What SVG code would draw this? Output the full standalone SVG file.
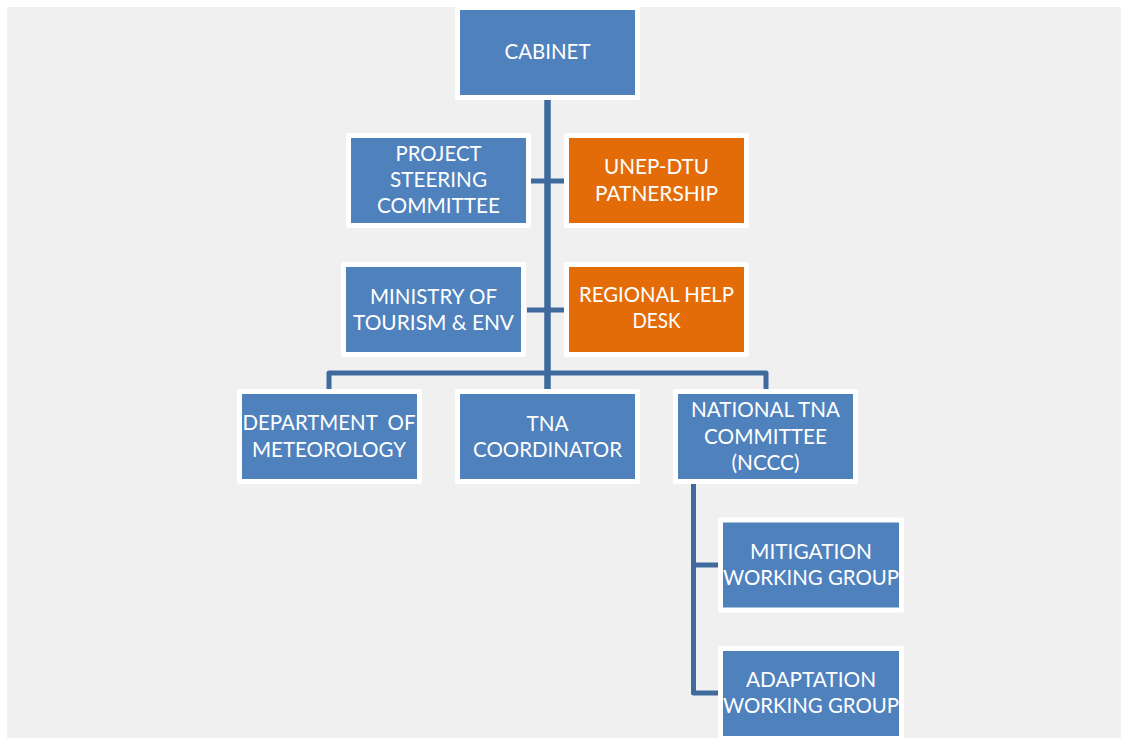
<svg xmlns="http://www.w3.org/2000/svg" width="1121" height="738" viewBox="0 0 1121 738">
  <style>
    .box{stroke:#ffffff;stroke-width:5;stroke-linejoin:round}
    .blue{fill:#4f81bd}
    .orange{fill:#e36c09}
    .lbl{font-family:Lato,"Liberation Sans",sans-serif;font-size:21.5px;fill:#ffffff;text-anchor:middle}
    .conn{fill:none;stroke:#3e6a9e;stroke-width:5;stroke-linejoin:round;stroke-linecap:butt}
  </style>
  <rect x="0" y="0" width="1121" height="738" fill="#ffffff"/>
  <rect x="7" y="7" width="1114" height="731" fill="#f0f0f0"/>

  <g id="connectors">
    <path class="conn" d="M547.5 99 V389" style="stroke-width:6.5"/>
    <path class="conn" d="M531 181 H564"/>
    <path class="conn" d="M527 310 H564"/>
    <path class="conn" d="M329 389 V373 H766 V389"/>
    <path class="conn" d="M693.5 484 V693 H719"/>
    <path class="conn" d="M693.5 565 H719"/>
  </g>

  <g id="cabinet">
    <rect class="box blue" x="457.5" y="7.5" width="180" height="90"/>
    <text class="lbl" x="547.5" y="59" textLength="86" lengthAdjust="spacingAndGlyphs">CABINET</text>
  </g>
  <g id="project-steering-committee">
    <rect class="box blue" x="348.5" y="135.5" width="180" height="90"/>
    <text class="lbl" x="438.5" y="161" textLength="86" lengthAdjust="spacingAndGlyphs">PROJECT</text>
    <text class="lbl" x="438.5" y="187" textLength="97" lengthAdjust="spacingAndGlyphs">STEERING</text>
    <text class="lbl" x="438.5" y="213" textLength="123" lengthAdjust="spacingAndGlyphs">COMMITTEE</text>
  </g>
  <g id="unep-dtu">
    <rect class="box orange" x="566.5" y="135.5" width="180" height="90"/>
    <text class="lbl" x="656.5" y="174" textLength="105" lengthAdjust="spacingAndGlyphs">UNEP-DTU</text>
    <text class="lbl" x="656.5" y="201" textLength="123" lengthAdjust="spacingAndGlyphs">PATNERSHIP</text>
  </g>
  <g id="ministry">
    <rect class="box blue" x="343.5" y="264.5" width="180" height="90"/>
    <text class="lbl" x="433.5" y="304" textLength="127" lengthAdjust="spacingAndGlyphs">MINISTRY OF</text>
    <text class="lbl" x="433.5" y="330" textLength="161" lengthAdjust="spacingAndGlyphs">TOURISM &amp; ENV</text>
  </g>
  <g id="regional-help-desk">
    <rect class="box orange" x="566.5" y="264.5" width="180" height="90"/>
    <text class="lbl" x="656.5" y="302" textLength="155" lengthAdjust="spacingAndGlyphs">REGIONAL HELP</text>
    <text class="lbl" x="656.5" y="328" textLength="48" lengthAdjust="spacingAndGlyphs">DESK</text>
  </g>
  <g id="department-meteorology">
    <rect class="box blue" x="239.5" y="391.5" width="180" height="90"/>
    <text class="lbl" x="329" y="430" xml:space="preserve" textLength="173" lengthAdjust="spacingAndGlyphs">DEPARTMENT  OF</text>
    <text class="lbl" x="329" y="457" textLength="154" lengthAdjust="spacingAndGlyphs">METEOROLOGY</text>
  </g>
  <g id="tna-coordinator">
    <rect class="box blue" x="457.5" y="391.5" width="180" height="90"/>
    <text class="lbl" x="547.5" y="431" textLength="42" lengthAdjust="spacingAndGlyphs">TNA</text>
    <text class="lbl" x="547.5" y="457" textLength="149" lengthAdjust="spacingAndGlyphs">COORDINATOR</text>
  </g>
  <g id="national-tna-committee">
    <rect class="box blue" x="675.5" y="391.5" width="180" height="90"/>
    <text class="lbl" x="765.5" y="417" textLength="149" lengthAdjust="spacingAndGlyphs">NATIONAL TNA</text>
    <text class="lbl" x="765.5" y="444" textLength="123" lengthAdjust="spacingAndGlyphs">COMMITTEE</text>
    <text class="lbl" x="765.5" y="470" textLength="68" lengthAdjust="spacingAndGlyphs">(NCCC)</text>
  </g>
  <g id="mitigation-working-group">
    <rect class="box blue" x="720.5" y="520" width="181" height="90"/>
    <text class="lbl" x="811" y="559" textLength="122" lengthAdjust="spacingAndGlyphs">MITIGATION</text>
    <text class="lbl" x="811" y="585" textLength="176" lengthAdjust="spacingAndGlyphs">WORKING GROUP</text>
  </g>
  <g id="adaptation-working-group">
    <rect class="box blue" x="720.5" y="648.5" width="181" height="90"/>
    <text class="lbl" x="811" y="687" textLength="130" lengthAdjust="spacingAndGlyphs">ADAPTATION</text>
    <text class="lbl" x="811" y="713" textLength="176" lengthAdjust="spacingAndGlyphs">WORKING GROUP</text>
  </g>
</svg>
